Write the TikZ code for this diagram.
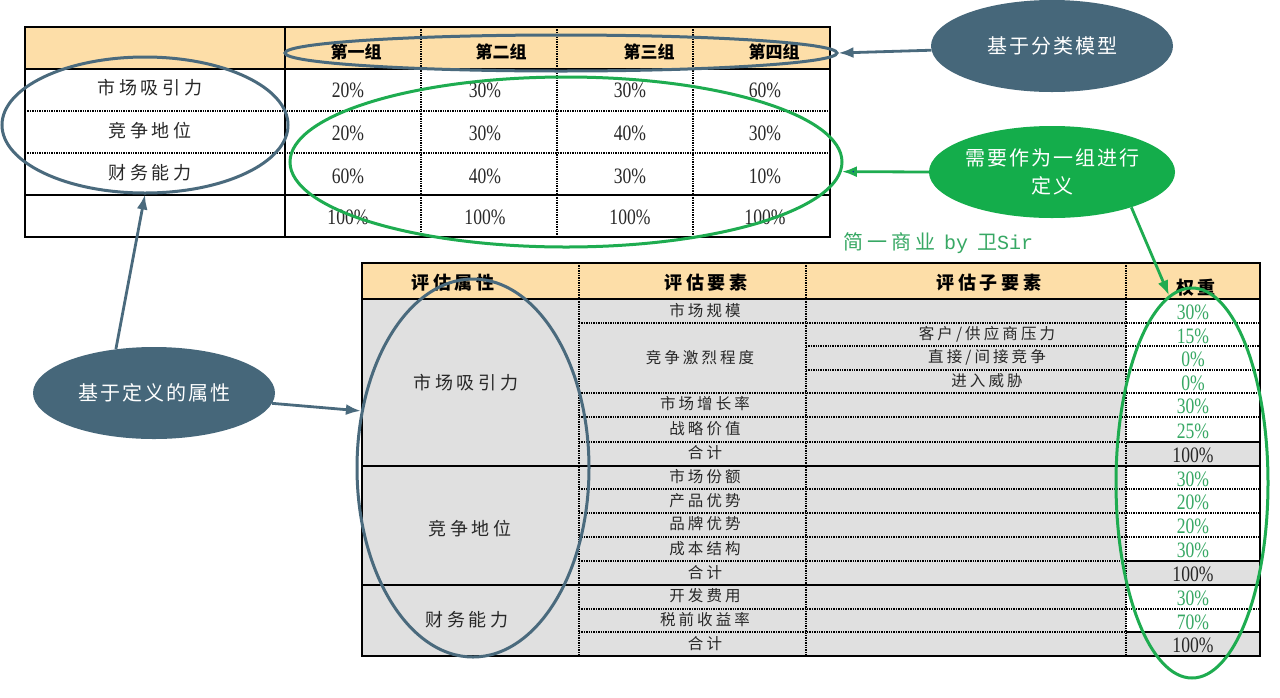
\documentclass[tikz,border=0pt]{standalone}
\usepackage{fontspec}
\setmainfont{Liberation Serif}
\newfontfamily\cjk{Noto Sans CJK SC}[LetterSpace=20]
\newfontfamily\cjkn{Noto Sans CJK SC}
\newfontfamily\numf{Liberation Serif}[FakeStretch=0.8]
\newfontfamily\monof{Liberation Mono}
\usetikzlibrary{shapes.geometric,arrows.meta}
\definecolor{peach}{RGB}{253,222,168}
\definecolor{cellgray}{RGB}{224,224,224}
\definecolor{slate}{RGB}{70,103,122}
\definecolor{slateline}{RGB}{74,106,125}
\definecolor{grn}{RGB}{20,173,75}
\definecolor{grnline}{RGB}{30,172,80}
\definecolor{grntext}{RGB}{55,168,100}
\definecolor{txt}{RGB}{40,40,40}
\tikzset{
  dotline/.style={line width=1.3pt, dash pattern=on 1.3pt off 1.1pt, black},
  solidline/.style={line width=1.5pt, black},
  border/.style={line width=1.7pt, black},
  lbl/.style={inner sep=0pt, text=txt, font=\cjk\fontsize{18}{20}\selectfont},
  hdr/.style={inner sep=0pt, text=black, font=\cjkn\bfseries\fontsize{17}{19}\selectfont},
  hdrb/.style={inner sep=0pt, text=black, font=\cjk\bfseries\fontsize{18}{20}\selectfont},
  num/.style={inner sep=0pt, text=txt, font=\numf\fontsize{22}{24}\selectfont},
  wnum/.style={inner sep=0pt, text=grntext, font=\numf\fontsize{22}{24}\selectfont},
  tnum/.style={inner sep=0pt, text=black!85, font=\numf\fontsize{22}{24}\selectfont},
  small/.style={inner sep=0pt, text=txt, font=\cjk\fontsize{15.5}{17}\selectfont},
  bubble/.style={ellipse, inner sep=0pt, minimum width=242pt, minimum height=92pt, text=white, font=\cjkn\fontsize{20}{28}\selectfont\addfontfeatures{LetterSpace=10}, align=center},
  ring/.style={ellipse, draw, line width=3pt, inner sep=0pt, fill=none},
  arr/.style={line width=2.8pt, -{Latex[length=15pt,width=11pt]}},
}
\begin{document}
\begin{tikzpicture}[x=1pt,y=-1pt]
\useasboundingbox (0,0) rectangle (1280,697);
\fill[white] (0,0) rectangle (1280,697);

% ---------- top table ----------
\fill[peach] (25,27) rectangle (830,69);
\foreach \x in {421,557,693} \draw[dotline] (\x,27) -- (\x,237);
\foreach \y in {111,153} \draw[dotline] (25,\y) -- (830,\y);
\draw[solidline] (285,27) -- (285,237);
\draw[solidline] (25,69) -- (830,69);
\draw[solidline] (25,195) -- (830,195);
\draw[border] (25,27) rectangle (830,237);

\node[hdr] (h1) at (356,52) {第一组};
\node[hdr] (h2) at (501,52) {第二组};
\node[hdr] (h3) at (649,52) {第三组};
\node[hdr] (h4) at (774,52) {第四组};

\node[lbl] (r1) at (150,88) {市场吸引力};
\node[lbl] (r2) at (150,131) {竞争地位};
\node[lbl] (r3) at (150,173) {财务能力};

\foreach \a/\b/\c/\d/\y/\i in {20\%/30\%/30\%/60\%/90/1, 20\%/30\%/40\%/30\%/133/2, 60\%/40\%/30\%/10\%/176/3, 100\%/100\%/100\%/100\%/217/4}{
  \node[num] (va\i) at (348,\y) {\a};
  \node[num] (vb\i) at (485,\y) {\b};
  \node[num] (vc\i) at (630,\y) {\c};
  \node[num] (vd\i) at (765,\y) {\d};
}

% ---------- bottom table ----------
\fill[peach] (362,263) rectangle (1260,299);
\fill[cellgray] (362,299) rectangle (1126,656);
\fill[cellgray] (1126,442) rectangle (1260,466);
\fill[cellgray] (1126,561) rectangle (1260,585);
\fill[cellgray] (1126,632) rectangle (1260,656);

\foreach \y in {323,393,417,489,513,537,609} \draw[dotline] (579,\y) -- (1260,\y);
\foreach \y in {346,370} \draw[dotline] (806,\y) -- (1260,\y);
\foreach \y in {442,561,632} {\draw[dotline] (579,\y) -- (1126,\y); \draw[solidline] (1126,\y) -- (1260,\y);}
\foreach \x in {579,806,1126} \draw[dotline] (\x,263) -- (\x,656);
\foreach \y in {299,466,585} \draw[solidline] (362,\y) -- (1260,\y);
\draw[border] (362,263) rectangle (1260,656);

\node[hdrb] (bh1) at (453,283) {评估属性};
\node[hdrb] (bh2) at (706,283) {评估要素};
\node[hdrb] (bh3) at (989,283) {评估子要素};
\node[hdrb] (bh4) at (1196,288) {权重};

\node[lbl] (a1) at (466,383) {市场吸引力};
\node[lbl] (a2) at (470,529) {竞争地位};
\node[lbl] (a3) at (467,620) {财务能力};

\node[small] (e1) at (705,311) {市场规模};
\node[small] (e2) at (700,358) {竞争激烈程度};
\node[small] (e3) at (705,404) {市场增长率};
\node[small] (e4) at (705,429) {战略价值};
\node[small] (e5) at (705,453) {合计};
\node[small] (e6) at (705,477) {市场份额};
\node[small] (e7) at (705,501) {产品优势};
\node[small] (e8) at (705,524) {品牌优势};
\node[small] (e9) at (705,549) {成本结构};
\node[small] (e10) at (705,573) {合计};
\node[small] (e11) at (705,596) {开发费用};
\node[small] (e12) at (705,620) {税前收益率};
\node[small] (e13) at (705,644) {合计};

\node[small] (s1) at (987,334) {客户/供应商压力};
\node[small] (s2) at (987,357) {直接/间接竞争};
\node[small] (s3) at (987,381) {进入威胁};

\foreach \v/\y/\i in {30\%/312/1, 15\%/336/2, 0\%/359/3, 0\%/383/4, 30\%/406/5, 25\%/431/6, 30\%/479/8, 20\%/502/9, 20\%/526/10, 30\%/550/11, 30\%/598/13, 70\%/622/14}
  \node[wnum] (w\i) at (1193,\y) {\v};
\node[tnum] (w7) at (1193,455) {100\%};
\node[tnum] (w12) at (1193,574) {100\%};
\node[tnum] (w15) at (1193,645) {100\%};

\node[inner sep=0pt, anchor=west, text=grntext, font=\fontsize{20}{22}\selectfont] (wm) at (843,243)
  {{\cjk 简一商业}\hspace{9pt}{\monof by}\hspace{9pt}{\cjkn 卫}{\monof Sir}};

% ---------- rings ----------
\node[ring, draw=slateline, minimum width=552pt, minimum height=36pt] (hdrell) at (561,53) {};
\node[ring, draw=slateline, minimum width=286pt, minimum height=136pt] (lell) at (145,125) {};
\node[ring, draw=grnline, minimum width=552pt, minimum height=170pt] (gell) at (566,162) {};
\node[ring, draw=slateline, minimum width=232pt, minimum height=378pt] (bell) at (473,468) {};
\node[ring, draw=grnline, minimum width=152pt, minimum height=390pt] (well) at (1192,483) {};

% ---------- bubbles ----------
\node[bubble, fill=slate] (b1) at (1052,46) {基于分类模型};
\node[bubble, fill=grn] (b2) at (1052,172) {需要作为一组进行\\定义};
\node[bubble, fill=slate] (b3) at (154,393) {基于定义的属性};

% ---------- arrows ----------
\draw[arr, slateline] (b1.182) -- (hdrell.east);
\draw[line width=2.8pt, grnline, -{Latex[length=15pt,width=11pt,fill=blue!80!black]}] (b2.west) -- (gell.-2);
\draw[arr, grnline] (b2.-24) -- (well.97);
\draw[arr, slateline] (b3.131) -- (lell.south);
\draw[arr, slateline] (b3.-5) -- (bell.153);
\end{tikzpicture}
\end{document}
